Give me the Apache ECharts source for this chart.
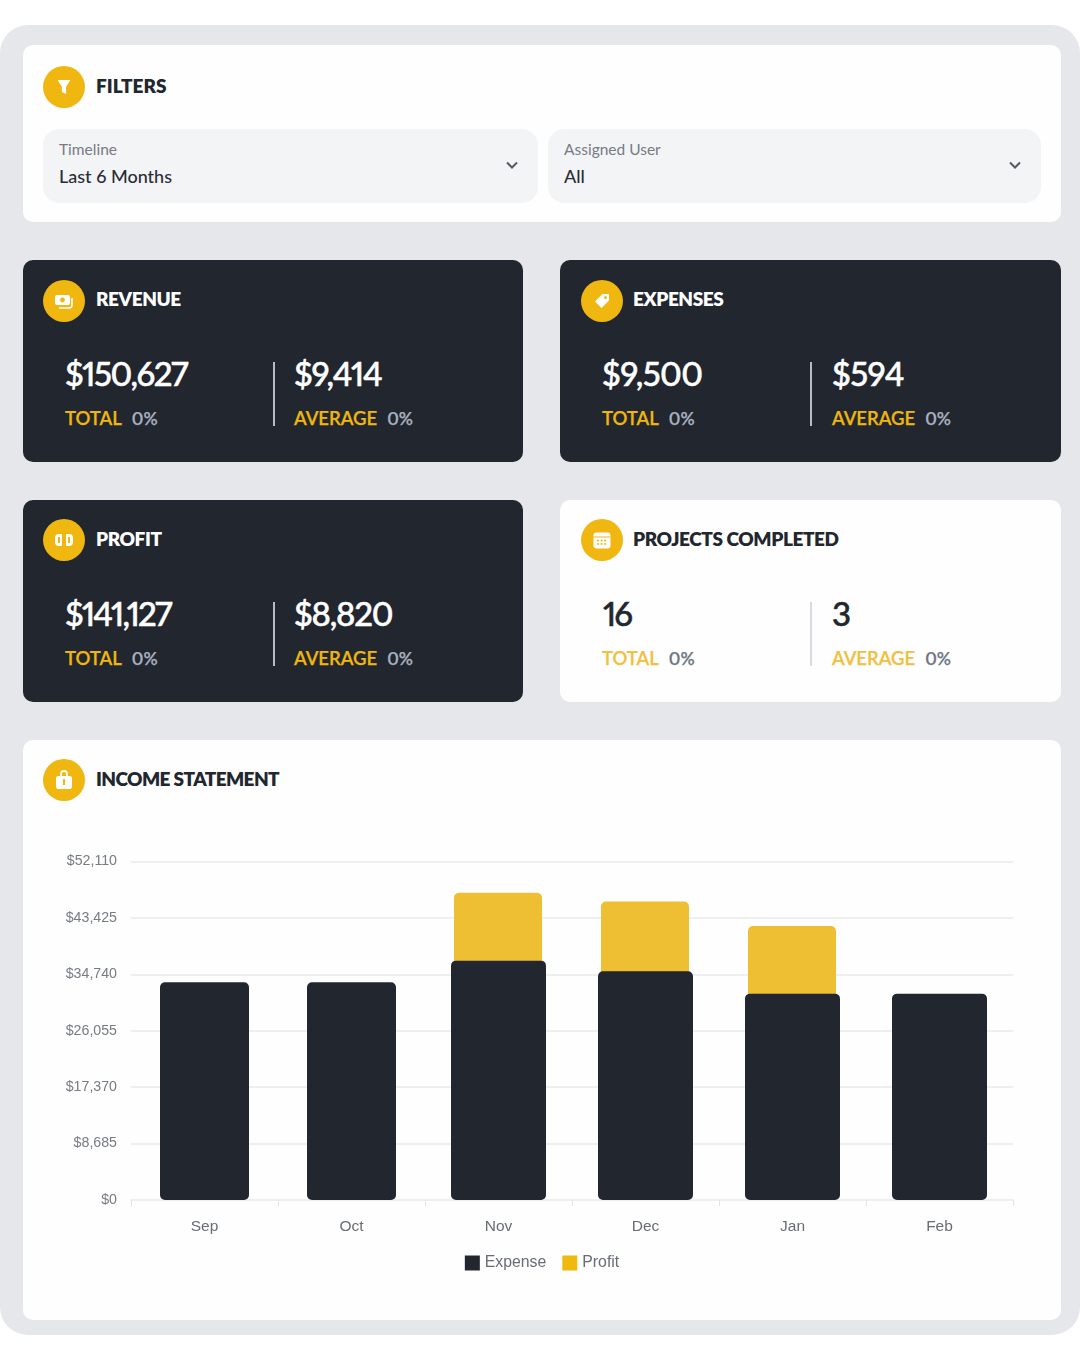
<!DOCTYPE html>
<html>
<head>
<meta charset="utf-8">
<title>Dashboard</title>
<script src="https://cdn.jsdelivr.net/npm/echarts@6/dist/echarts.min.js"></script>
<style>
    * { box-sizing: border-box; margin: 0; padding: 0; }
    html, body { width: 1080px; height: 1350px; background: #fff; overflow: hidden; }
    body { position: relative; font-family: Lato, "Noto Sans", sans-serif; color: #22262f; font-variant-numeric: proportional-nums; }
    .panel { position: absolute; left: 0; top: 25px; width: 1080px; height: 1310px; background: #e5e7eb; border-radius: 28px; }
    .card { position: absolute; background: #fefefe; border-radius: 10px; }
    .card.dark { background: #22262f; color: #fff; }
    .icon { position: absolute; left: 20px; top: 21px; width: 42px; height: 42px; border-radius: 50%; background: #efb70f; }
    .icon svg { position: absolute; left: 9px; top: 9px; width: 24px; height: 24px; }
    .title { position: absolute; left: 73px; top: 29px; font-size: 19px; line-height: 24px; font-weight: 800; letter-spacing: -0.4px; white-space: nowrap; }
    .select { position: absolute; top: 84px; height: 74px; background: #f3f4f6; border-radius: 16px; }
    .select .lbl { position: absolute; left: 16px; top: 10px; font-size: 15.5px; line-height: 20px; color: #777b84; }
    .select .val { position: absolute; left: 16px; top: 35px; font-size: 18px; line-height: 24px; font-weight: 500; color: #2a2d36; }
    .select svg { position: absolute; top: 29px; width: 14px; height: 14px; }
    .big { position: absolute; top: 92px; font-size: 33px; line-height: 42px; font-weight: 500; letter-spacing: -1.2px; -webkit-text-stroke: 0.5px currentColor; white-space: nowrap; }
    .sub { position: absolute; top: 146px; font-size: 18.5px; line-height: 24px; font-weight: 600; -webkit-text-stroke: 0.25px currentColor; white-space: nowrap; color: #eeb70f; }
    .sub span { margin-left: 10px; font-size: 17.5px; color: #a9b2c0; }
    .card:not(.dark) .sub { color: #f0c040; }
    .card:not(.dark) .sub span { color: #6f7683; }
    .sep { position: absolute; top: 102px; width: 2px; height: 64px; background: #b8bbc0; }
    .card:not(.dark) .sep { background: #d9dbe0; }
    #chart { position: absolute; left: 0; top: 0; width: 1038px; height: 580px; }
</style>
</head>
<body>
<div class="panel"></div>

<div class="card" style="left:23px;top:45px;width:1038px;height:177px">
    <div class="icon"><svg viewBox="0 0 24 24"><path d="M5.5 5h13l-4.4 6.8V19l-4.2-2v-5.2z" fill="#fff"/></svg></div>
    <div class="title" style="letter-spacing:0">FILTERS</div>
    <div class="select" style="left:20px;width:495px">
        <div class="lbl">Timeline</div><div class="val">Last 6 Months</div>
        <svg style="left:462px" viewBox="0 0 14 14"><path d="M2 4.5l5 5 5-5" fill="none" stroke="#555a63" stroke-width="2"/></svg>
    </div>
    <div class="select" style="left:525px;width:493px">
        <div class="lbl">Assigned User</div><div class="val">All</div>
        <svg style="left:460px" viewBox="0 0 14 14"><path d="M2 4.5l5 5 5-5" fill="none" stroke="#555a63" stroke-width="2"/></svg>
    </div>
</div>

<div class="card dark" style="left:23px;top:260px;width:500px;height:202px">
    <div class="icon" style="top:20px"><svg viewBox="0 0 24 24"><rect x="3" y="6" width="15" height="10" rx="2" fill="#fff"/><circle cx="10.5" cy="11" r="2.4" fill="#efb70f"/><path d="M20 9v7a3 3 0 0 1-3 3H7" fill="none" stroke="#fff" stroke-width="1.6"/></svg></div>
    <div class="title" style="top:27px">REVENUE</div>
    <div class="big" style="left:42px;letter-spacing:-1.5px">$150,627</div><div class="sub" style="left:42px">TOTAL<span>0%</span></div>
    <div class="sep" style="left:250px"></div>
    <div class="big" style="left:271px">$9,414</div><div class="sub" style="left:271px">AVERAGE<span>0%</span></div>
</div>

<div class="card dark" style="left:560px;top:260px;width:501px;height:202px">
    <div class="icon" style="left:21px;top:20px"><svg viewBox="0 0 24 24"><path d="M5 12.5L12.5 5H18a1 1 0 0 1 1 1v5.5L11.5 19z" fill="#fff"/><circle cx="15.5" cy="8.5" r="1.5" fill="#efb70f"/></svg></div>
    <div class="title" style="top:27px">EXPENSES</div>
    <div class="big" style="left:42px;letter-spacing:-0.6px">$9,500</div><div class="sub" style="left:42px">TOTAL<span>0%</span></div>
    <div class="sep" style="left:250px"></div>
    <div class="big" style="left:272px;letter-spacing:-0.6px">$594</div><div class="sub" style="left:272px">AVERAGE<span>0%</span></div>
</div>

<div class="card dark" style="left:23px;top:500px;width:500px;height:202px">
    <div class="icon" style="top:19px"><svg viewBox="0 0 24 24"><rect x="3" y="6" width="18" height="12" rx="4" fill="#fff"/><rect x="10" y="5" width="4" height="14" fill="#efb70f"/><rect x="6" y="9" width="2" height="6" fill="#efb70f"/><rect x="16" y="9" width="2" height="6" fill="#efb70f"/></svg></div>
    <div class="title" style="top:27px">PROFIT</div>
    <div class="big" style="left:42px;letter-spacing:-1.8px">$141,127</div><div class="sub" style="left:42px">TOTAL<span>0%</span></div>
    <div class="sep" style="left:250px"></div>
    <div class="big" style="left:271px">$8,820</div><div class="sub" style="left:271px">AVERAGE<span>0%</span></div>
</div>

<div class="card" style="left:560px;top:500px;width:501px;height:202px">
    <div class="icon" style="left:21px;top:19px"><svg viewBox="0 0 24 24"><rect x="3.5" y="4.5" width="17" height="16" rx="3" fill="#fff"/><path d="M3.5 9h17" stroke="#efb70f" stroke-width="1"/><path d="M7 12.5h10M7 16h10" stroke="#efb70f" stroke-width="1.6" stroke-dasharray="2 1.6"/></svg></div>
    <div class="title" style="top:27px">PROJECTS COMPLETED</div>
    <div class="big" style="left:43px;letter-spacing:-2px">16</div><div class="sub" style="left:42px">TOTAL<span>0%</span></div>
    <div class="sep" style="left:250px"></div>
    <div class="big" style="left:272px">3</div><div class="sub" style="left:272px">AVERAGE<span>0%</span></div>
</div>

<div class="card" style="left:23px;top:740px;width:1038px;height:580px">
    <div class="icon" style="top:19px"><svg viewBox="0 0 24 24"><rect x="4" y="8" width="16" height="13" rx="2.5" fill="#fff"/><path d="M9 8V6a3 3 0 0 1 6 0v2" fill="none" stroke="#fff" stroke-width="1.8"/><rect x="11" y="11" width="2" height="6" fill="#efb70f"/></svg></div>
    <div class="title" style="top:27px;letter-spacing:-0.6px">INCOME STATEMENT</div>
    <div id="chart"></div>
</div>

<script>
    // 数据
    const months = ["Sep", "Oct", "Nov", "Dec", "Jan", "Feb"];
    const expense = [33510, 33510, 36850, 35200, 31770, 31770];
    const profit = [null, null, 47300, 45960, 42170, null];
    const yTicks = [0, 8685, 17370, 26055, 34740, 43425, 52110];

    const DARK = "#22262f";
    const GOLD = "#eebf33";
    const LINE = "#eeeff1";

    var myChart = echarts.init(document.getElementById("chart"));

    function xAxis(show) {
        return {
            type: "category",
            show: show,
            data: months,
            axisLine: { show: true, lineStyle: { color: LINE, width: 2 } },
            axisTick: { show: true, length: 6, lineStyle: { color: "#e2e3e7" } },
            axisLabel: { color: "#686c74", fontSize: 15.5, margin: 19, fontFamily: "Liberation Sans" }
        };
    }

    myChart.setOption({
        animation: false,
        grid: { left: 108, right: 48, top: 121.5, bottom: 120 },
        legend: {
            bottom: 44,
            left: "center",
            data: [
                { name: "Expense", itemStyle: { color: DARK } },
                { name: "Profit", itemStyle: { color: "#efb90f" } }
            ],
            icon: "rect",
            itemWidth: 15,
            itemHeight: 15,
            itemGap: 16,
            selectedMode: false,
            textStyle: { color: "#686c74", fontSize: 15.8, fontFamily: "Liberation Sans" }
        },
        // 两根 x 轴：profit 和 expense 的柱宽不一样，各自居中
        xAxis: [xAxis(true), xAxis(false)],
        yAxis: {
            type: "value",
            min: 0,
            max: yTicks[yTicks.length - 1],
            interval: yTicks[1],
            axisLine: { show: false },
            axisTick: { show: false },
            splitLine: { lineStyle: { color: LINE, width: 2 } },
            axisLabel: {
                color: "#777b84",
                fontSize: 14.2,
                margin: 14,
                padding: [4, 0, 0, 0],
                fontFamily: "Liberation Sans",
                formatter: function (v) { return "$" + v.toLocaleString("en-US"); }
            }
        },
        series: [
            {
                name: "Profit",
                type: "bar",
                xAxisIndex: 1,
                barWidth: 88,
                barGap: "-100%",
                z: 2,
                data: profit,
                itemStyle: { color: GOLD, borderRadius: 5 }
            },
            {
                name: "Expense",
                type: "bar",
                xAxisIndex: 1,
                barWidth: 89,
                barGap: "-100%",
                z: 3,
                data: expense.map(function (v, i) { return i < 2 ? v : null; }),
                itemStyle: { color: DARK, borderRadius: 5 }
            },
            {
                name: "Expense",
                type: "bar",
                xAxisIndex: 0,
                barWidth: 95,
                z: 3,
                data: expense.map(function (v, i) { return i < 2 ? null : v; }),
                itemStyle: { color: DARK, borderRadius: 5 }
            }
        ]
    });
</script>
</body>
</html>
